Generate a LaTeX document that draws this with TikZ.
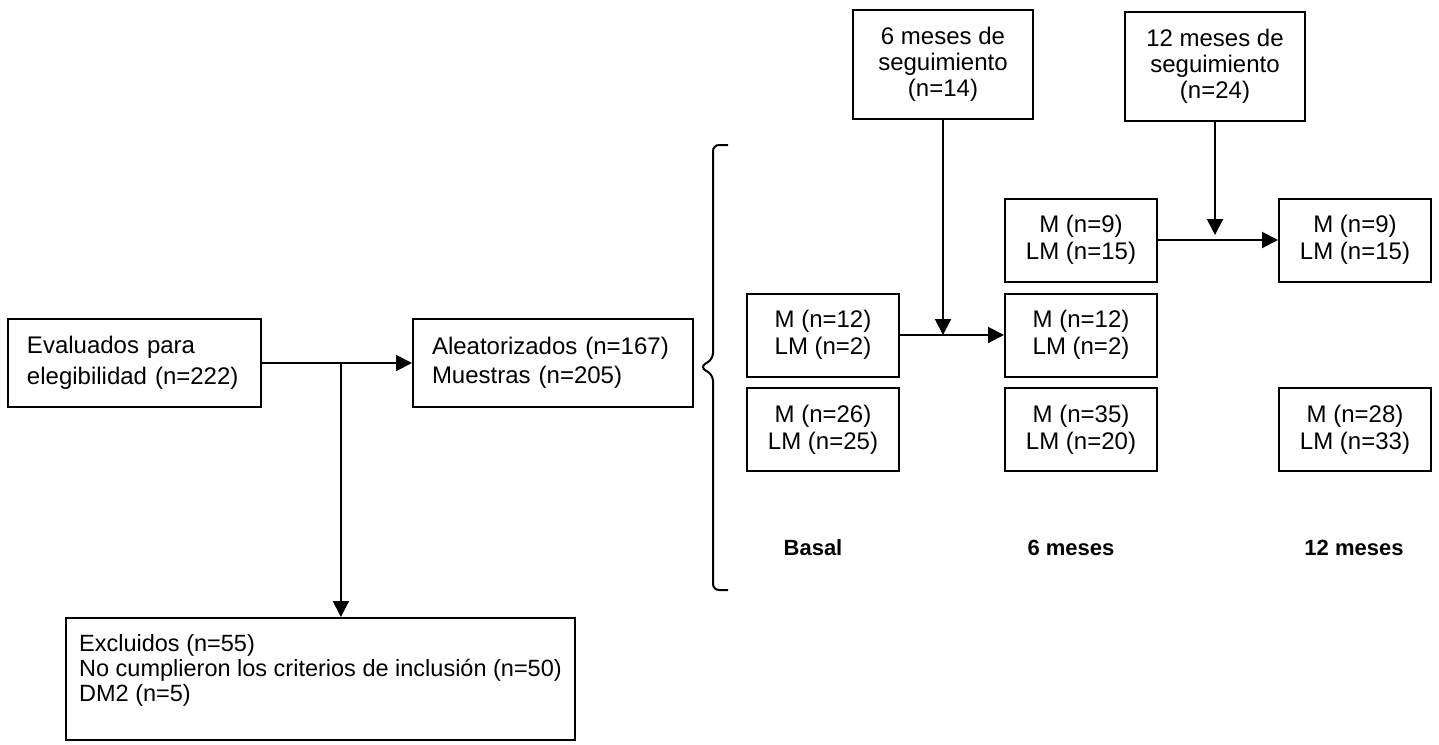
\documentclass[tikz,border=0pt]{standalone}
\usepackage{fontspec}
\setmainfont{Liberation Sans}
\usetikzlibrary{arrows.meta, calc}

\begin{document}
\begin{tikzpicture}[
    x=1pt, y=-1pt,
    >={Triangle[length=16pt, width=16pt]},
    line width=2pt,
    font=\fontsize{24}{27}\selectfont,
    flow/.style={
        draw,
        align=left,
        inner xsep=19pt,
        minimum height=88pt
    },
    group/.style={
        draw,
        align=center,
        minimum width=152pt,
        minimum height=83pt
    },
    follow/.style={
        draw,
        align=center,
        minimum width=180pt,
        minimum height=109pt,
        font=\fontsize{24}{26}\selectfont
    },
    arr/.style={->},
    lab/.style={font=\fontsize{22}{25}\selectfont\bfseries}
]
\useasboundingbox (0,0) rectangle (1439,744);

% ---------------- Enrolment ----------------
\node[flow, text width=215pt, font=\fontsize{24}{31}\selectfont] (eval) at (134.5,363)
    {Evaluados para\\elegibilidad (n=222)};
\node[flow, text width=242pt, font=\fontsize{24}{29}\selectfont] (aleat) at (553,363)
    {Aleatorizados (n=167)\\Muestras (n=205)};
\node[draw, align=left, minimum width=509pt, minimum height=122pt,
      font=\fontsize{23.5}{25}\selectfont] (excl) at (320.5,679)
    {Excluidos (n=55)\\No cumplieron los criterios de inclusión (n=50)\\DM2 (n=5)\rule[-22pt]{0pt}{0pt}};

% ---------------- Follow-up ----------------
\node[follow] (f6)  at (943,64)  {6 meses de\\seguimiento\\(n=14)};
\node[follow] (f12) at (1215,66) {12 meses de\\seguimiento\\(n=24)};

\node[group] (b1) at (823,335)    {M (n=12)\\LM (n=2)};
\node[group] (b2) at (823,429.5)  {M (n=26)\\LM (n=25)};

\node[group] (s0) at (1081,240)   {M (n=9)\\LM (n=15)};
\node[group] (s1) at (1081,335)   {M (n=12)\\LM (n=2)};
\node[group] (s2) at (1081,429.5) {M (n=35)\\LM (n=20)};

\node[group] (t0) at (1355,240)   {M (n=9)\\LM (n=15)};
\node[group] (t2) at (1355,429.5) {M (n=28)\\LM (n=33)};

\node[lab] (basal) at (813,548)  {Basal};
\node[lab] (mes6)  at (1071,548) {6 meses};
\node[lab] (mes12) at (1354,548) {12 meses};

% ---------------- Brace ----------------
\draw[rounded corners=6pt] (728,145) -- (713,145) -- (713,359) -- (700,367)
    -- (713,375) -- (713,590) -- (728,590);

% ---------------- Arrows ----------------
\coordinate (split) at ($(eval.east)!0.526!(aleat.west)$);
\coordinate (j6)  at (f6.south |- b1.east);
\coordinate (j12) at (f12.south |- s0.east);

\draw[arr] (eval.east) -- (aleat.west);
\draw[arr] (split) -- (split |- excl.north);

\draw[arr] (b1.east) -- (s1.west);
\draw[arr] (f6.south) -- (j6);

\draw[arr] (s0.east) -- (t0.west);
\draw[arr] (f12.south) -- ([yshift=5pt]j12);

\end{tikzpicture}
\end{document}
